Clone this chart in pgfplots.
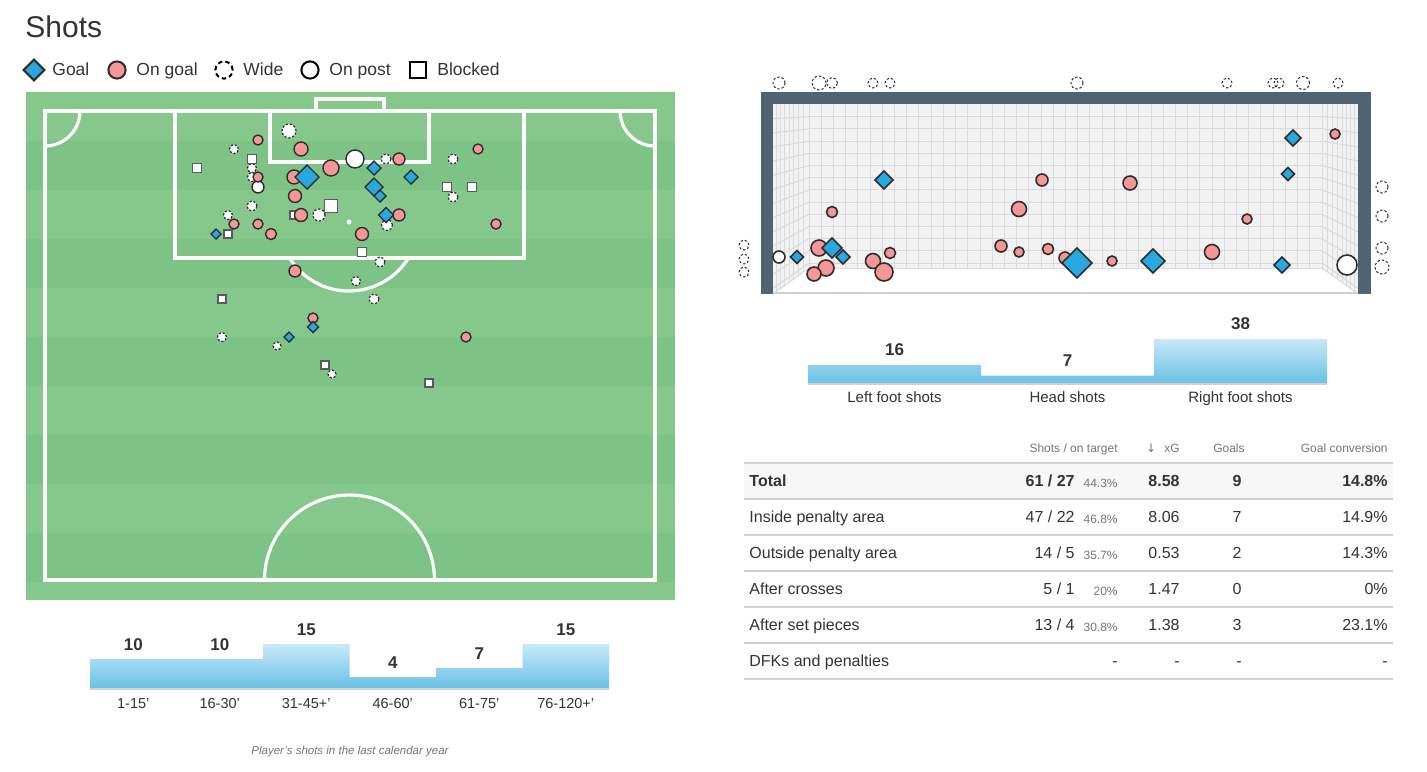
\documentclass[border=0pt]{standalone}
\usepackage{pgfplots}
\pgfplotsset{compat=1.18}
\usepackage{pgfplotstable}
\usepackage{fontspec}
\setmainfont{Liberation Sans}
\newfontfamily\djv{DejaVu Sans}
\newcommand\fpx[1]{\fontsize{\fpeval{#1/2}}{\fpeval{#1*0.6}}\selectfont}

\definecolor{txt}{RGB}{51,51,51}
\definecolor{hdr}{RGB}{117,117,117}
\definecolor{grassA}{RGB}{134,200,140}
\definecolor{grassB}{RGB}{126,195,134}
\definecolor{goalc}{RGB}{41,168,224}
\definecolor{pinkc}{RGB}{247,150,150}
\definecolor{edgec}{RGB}{45,45,45}
\definecolor{blkc}{RGB}{90,90,90}
\definecolor{framec}{RGB}{80,99,114}
\definecolor{netbg}{RGB}{242,242,242}
\definecolor{netln}{RGB}{218,218,218}
\definecolor{barTop}{RGB}{200,232,247}
\definecolor{barBot}{RGB}{104,192,231}
\definecolor{barEdge}{RGB}{160,214,240}
\definecolor{rulec}{RGB}{208,208,208}
\definecolor{rowbg}{RGB}{247,247,247}

\pgfdeclareplotmark{rdiamond}{%
  \pgfpathmoveto{\pgfqpoint{0pt}{\pgfplotmarksize}}%
  \pgfpathlineto{\pgfqpoint{\pgfplotmarksize}{0pt}}%
  \pgfpathlineto{\pgfqpoint{0pt}{-\pgfplotmarksize}}%
  \pgfpathlineto{\pgfqpoint{-\pgfplotmarksize}{0pt}}%
  \pgfpathclose
  \pgfusepathqfillstroke
}

% per-point sized marks: args = mark, draw colour, fill colour, extra mark style
\pgfplotsset{
  mk/.style n args={4}{%
    scatter, only marks, mark=#1,
    visualization depends on={0.5*\thisrow{r} \as \msz},
    scatter/@pre marker code/.code={\scope[/tikz/mark size=\msz, draw=#2, fill=#3, #4]},
    scatter/@post marker code/.code={\endscope},
  },
}

% ---------- pitch (pixel coordinates) ----------
\pgfplotstableread{
x y r
289 131 7
234 149 4.5
386 159 5
453 159 5
252 168 4.5
252 177 4.5
453 197 5
252 206 5
228 215 4.5
319 215 6
387 225 5.5
380 262 5
356 281 4.5
374 299 5
222 337 4.5
277 346 4
332 374 4
}\pWide
\pgfplotstableread{
x y r
252 159 4.5
197 168 4.5
447 187 4.5
472 187 4.5
331 206 6.5
294 215 4
228 234 4
362 252 4.5
222 299 4
325 365 4
429 383 4
}\pBlocked
\pgfplotstableread{
x y r
355 159 9
258 187 6
}\pPost
\pgfplotstableread{
x y r
258 140 5
301 149 7
399 159 6
478 149 5
331 168 8
294 177 7
258 177 5
295 196 6.5
301 215 6.5
399 215 6
234 224 5
258 224 5
271 234 5.5
362 234 6.5
496 224 5
295 271 6
313 318 5
466 337 5
}\pOnGoal
\pgfplotstableread{
x y r
374 168 7
307 177 12
411 177 7
374 187 9
380 196 6
386 215 7.5
216 234 5
313 327 5.5
289 337 5
}\pGoal

% ---------- goal view (pixel coordinates) ----------
\pgfplotstableread{
x y r
779 83 6
819 83 7
832 83 5.5
873 83 5
890 83 5
1077 83 6
1227 83 5
1273 83 5
1279 83 5
1303 83 6.5
1338 83 5
744 245 5
744 259 5
744 272 5
1382 187 6
1382 216 6
1382 248 6
1382 267 7
}\gWide
\pgfplotstableread{
x y r
779 257 6
1347 265 10
}\gPost
\pgfplotstableread{
x y r
819 248 8
826 268 8
814 274 7
832 212 5.5
873 261 7.5
884 272 9
890 253 5.5
1042 180 6
1019 209 7.5
1001 246 6
1019 252 5
1048 249 5.5
1065 258 6
1130 183 7
1112 261 5
1212 252 7.5
1247 219 5
1335 134 5
}\gOnGoal
\pgfplotstableread{
x y r
797 257 6.5
832 248 10
843 257 7
884 180 9
1077 263 15
1153 261 12
1293 138 8
1288 174 6.5
1282 265 8
}\gGoal

\begin{document}
\begin{tikzpicture}[x=0.5pt,y=-0.5pt]
\useasboundingbox (0,0) rectangle (1427,771);

% ---------------- pitch background ----------------
\fill[grassA] (26,92) rectangle (675,600);
\foreach \i in {1,3,5,7,9}{\fill[grassB] (26,{92+49*\i}) rectangle (675,{92+49*(\i+1)});}
\begin{scope}[draw=white, line width=1.6pt]
  \draw (45,111) rectangle (655,580);
  \draw (316,111) -- (316,99) -- (384,99) -- (384,111);
  \draw (175,111) -- (175,258) -- (524,258) -- (524,111);
  \draw (270,111) -- (270,162) -- (429,162) -- (429,111);
  \draw (80,111) arc[start angle=0, end angle=90, radius=35];
  \draw (620,111) arc[start angle=180, end angle=90, radius=35];
  \draw (408.4,258) arc[start angle=31.9, end angle=148.1, radius=70];
  \draw (264.5,580) arc[start angle=180, end angle=360, radius=85];
\end{scope}
\fill[white] (349,222) circle[radius=2.5];

% ---------------- goal net ----------------
\fill[netbg] (773,104) rectangle (1358,294);
\fill[white] (809,268) -- (1322,268) -- (1358,294) -- (773,294) -- cycle;
\begin{scope}[netln, line width=0.5pt]
  \foreach \k in {0,...,42}{\pgfmathsetmacro\xx{809+12.214*\k}\draw (\xx,104) -- (\xx,268);}
  \foreach \k in {1,...,13}{%
    \pgfmathsetmacro\yb{104.5+12.2*\k}%
    \pgfmathsetmacro\yf{104+(\yb-104)*1.1585}%
    \draw (809,\yb) -- (1322,\yb);
    \draw (773,\yf) -- (809,\yb);
    \draw (1322,\yb) -- (1358,\yf);}
  \foreach \d in {3.5,7.5,11.5,16,20.5,25.5,30.5}{%
    \pgfmathsetmacro\yy{294-\d*0.7222}%
    \draw (773+\d,104) -- (773+\d,\yy);
    \draw (1358-\d,104) -- (1358-\d,\yy);}
  \draw (809,268) -- (1322,268);
  \draw (809,268) -- (773,294);
  \draw (1322,268) -- (1358,294);
\end{scope}
\draw[rulec, line width=1pt] (773,293) -- (1358,293);
\fill[framec] (761,92) rectangle (1371,104);
\fill[framec] (761,92) rectangle (773,294);
\fill[framec] (1358,92) rectangle (1371,294);

% ---------------- table ----------------
\fill[rowbg] (744,463) rectangle (1393,499);
\foreach \yy in {463,499,535,571,607,643,679}{\draw[rulec, line width=1pt] (744,\yy) -- (1393,\yy);}
\begin{scope}[every node/.style={inner sep=0pt, text=hdr, font=\fpx{12}}]
  \node[anchor=mid east] at (1118,447) {Shots / on target};
  \node[anchor=mid east] at (1180,447) {{\djv\fpx{12}↓}\hspace{4pt}xG};
  \node[anchor=mid east] at (1245,447) {Goals};
  \node[anchor=mid east] at (1388,447) {Goal conversion};
\end{scope}
\begin{scope}[every node/.style={inner sep=0pt, text=txt, font=\fpx{16}}]
  \node[anchor=mid west, font=\fpx{16}\bfseries] at (749,481) {Total};
  \node[anchor=mid east, font=\fpx{16}\bfseries] at (1075,481) {61 / 27};
  \node[anchor=mid east, font=\fpx{16}\bfseries] at (1180,481) {8.58};
  \node[anchor=mid east, font=\fpx{16}\bfseries] at (1242,481) {9};
  \node[anchor=mid east, font=\fpx{16}\bfseries] at (1388,481) {14.8\%};
  \node[anchor=mid west] at (749,517) {Inside penalty area};
  \node[anchor=mid east] at (1075,517) {47 / 22};
  \node[anchor=mid east] at (1180,517) {8.06};
  \node[anchor=mid east] at (1242,517) {7};
  \node[anchor=mid east] at (1388,517) {14.9\%};
  \node[anchor=mid west] at (749,553) {Outside penalty area};
  \node[anchor=mid east] at (1075,553) {14 / 5};
  \node[anchor=mid east] at (1180,553) {0.53};
  \node[anchor=mid east] at (1242,553) {2};
  \node[anchor=mid east] at (1388,553) {14.3\%};
  \node[anchor=mid west] at (749,589) {After crosses};
  \node[anchor=mid east] at (1075,589) {5 / 1};
  \node[anchor=mid east] at (1180,589) {1.47};
  \node[anchor=mid east] at (1242,589) {0};
  \node[anchor=mid east] at (1388,589) {0\%};
  \node[anchor=mid west] at (749,625) {After set pieces};
  \node[anchor=mid east] at (1075,625) {13 / 4};
  \node[anchor=mid east] at (1180,625) {1.38};
  \node[anchor=mid east] at (1242,625) {3};
  \node[anchor=mid east] at (1388,625) {23.1\%};
  \node[anchor=mid west] at (749,661) {DFKs and penalties};
  \node[anchor=mid east] at (1118,661) {-};
  \node[anchor=mid east] at (1180,661) {-};
  \node[anchor=mid east] at (1242,661) {-};
  \node[anchor=mid east] at (1388,661) {-};
\end{scope}
\begin{scope}[every node/.style={inner sep=0pt, text=hdr, font=\fpx{12}, anchor=mid east}]
  \node at (1118,482) {44.3\%};
  \node at (1118,518) {46.8\%};
  \node at (1118,554) {35.7\%};
  \node at (1118,590) {20\%};
  \node at (1118,626) {30.8\%};
\end{scope}

% ---------------- title / legend text ----------------
\node[anchor=mid west, inner sep=0pt, text=txt, font=\fpx{30}] at (25,32) {Shots};
\begin{scope}[every node/.style={anchor=mid west, inner sep=0pt, text=txt, font=\fpx{17.5}}]
  \node at (52,70) {Goal};
  \node at (136,70) {On goal};
  \node at (243,70) {Wide};
  \node at (329,70) {On post};
  \node at (437,70) {Blocked};
\end{scope}
\node[inner sep=0pt, text=hdr, font=\fpx{11.5}\itshape] at (350,752) {Player's shots in the last calendar year};

% ---------------- markers ----------------
\begin{axis}[at={(0pt,0pt)}, anchor=north west, width=713.5pt, height=385.5pt,
  scale only axis, xmin=0, xmax=1427, ymin=0, ymax=771, y dir=reverse,
  hide axis, clip=false]
  % legend markers
  \addplot[only marks, mark=rdiamond, mark size=5.2pt, mark options={draw=edgec, fill=goalc, line width=1pt}] coordinates {(34,70)};
  \addplot[only marks, mark=*, mark size=4.3pt, mark options={draw=edgec, fill=pinkc, line width=1pt}] coordinates {(117,70)};
  \addplot[only marks, mark=o, mark size=4.3pt, mark options={draw=black, line width=1pt, dash pattern=on 2.2pt off 1.6pt}] coordinates {(224,70)};
  \addplot[only marks, mark=*, mark size=4.3pt, mark options={draw=black, fill=white, line width=1pt}] coordinates {(310,70)};
  \addplot[only marks, mark=square*, mark size=3.8pt, mark options={draw=black, fill=white, line width=1pt}] coordinates {(418,70)};
  % pitch
  \addplot[mk={*}{edgec}{white}{line width=0.6pt, dash pattern=on 1.1pt off 0.9pt}] table {\pWide};
  \addplot[mk={square*}{blkc}{white}{line width=0.6pt}] table {\pBlocked};
  \addplot[mk={*}{edgec}{white}{line width=0.7pt}] table {\pPost};
  \addplot[mk={*}{edgec}{pinkc}{line width=0.7pt}] table {\pOnGoal};
  \addplot[mk={rdiamond}{edgec}{goalc}{line width=0.7pt}] table {\pGoal};
  % goal view
  \addplot[mk={o}{edgec}{white}{line width=0.5pt, dash pattern=on 1.2pt off 1pt}] table {\gWide};
  \addplot[mk={*}{edgec}{white}{line width=0.8pt}] table {\gPost};
  \addplot[mk={*}{edgec}{pinkc}{line width=0.8pt}] table {\gOnGoal};
  \addplot[mk={rdiamond}{edgec}{goalc}{line width=0.8pt}] table {\gGoal};
\end{axis}

% ---------------- bars by time ----------------
\begin{axis}[at={(45pt,-344.5pt)}, anchor=south west, width=259.5pt, height=30pt, scale only axis,
  xmin=-0.5, xmax=5.5, ymin=0, ymax=20, clip=false,
  /pgf/number format/assume math mode=true,
  axis line style={draw=none}, tick style={draw=none}, ytick=\empty,
  xtick=data, xticklabels={1-15',16-30',31-45+',46-60',61-75',76-120+'},
  xticklabel style={anchor=base, yshift=-9.5pt, text=txt, font=\fpx{14.5}},
  nodes near coords, nodes near coords style={anchor=center, yshift=7pt, text=txt, font=\fpx{17}\bfseries}]
  \addplot[ybar, bar width=1, bar shift=0pt, draw=none, top color=barTop, bottom color=barBot]
    coordinates {(0,10) (1,10) (2,15) (3,4) (4,7) (5,15)};
  \draw[gray!35, line width=0.6pt] (axis cs:-0.5,0) -- (axis cs:5.5,0);
\end{axis}

% ---------------- bars by body part ----------------
\begin{axis}[at={(404pt,-192pt)}, anchor=south west, width=259.5pt, height=23.68pt, scale only axis,
  xmin=-0.5, xmax=2.5, ymin=0, ymax=40, clip=false,
  /pgf/number format/assume math mode=true,
  axis line style={draw=none}, tick style={draw=none}, ytick=\empty,
  xtick=data, xticklabels={Left foot shots,Head shots,Right foot shots},
  xticklabel style={anchor=base, yshift=-9pt, text=txt, font=\fpx{15}},
  nodes near coords, nodes near coords style={anchor=center, yshift=7.5pt, text=txt, font=\fpx{17}\bfseries}]
  \addplot[ybar, bar width=1, bar shift=0pt, draw=none, top color=barTop, bottom color=barBot]
    coordinates {(0,16) (1,7) (2,38)};
  \draw[gray!35, line width=0.6pt] (axis cs:-0.5,0) -- (axis cs:2.5,0);
\end{axis}
\end{tikzpicture}
\end{document}
